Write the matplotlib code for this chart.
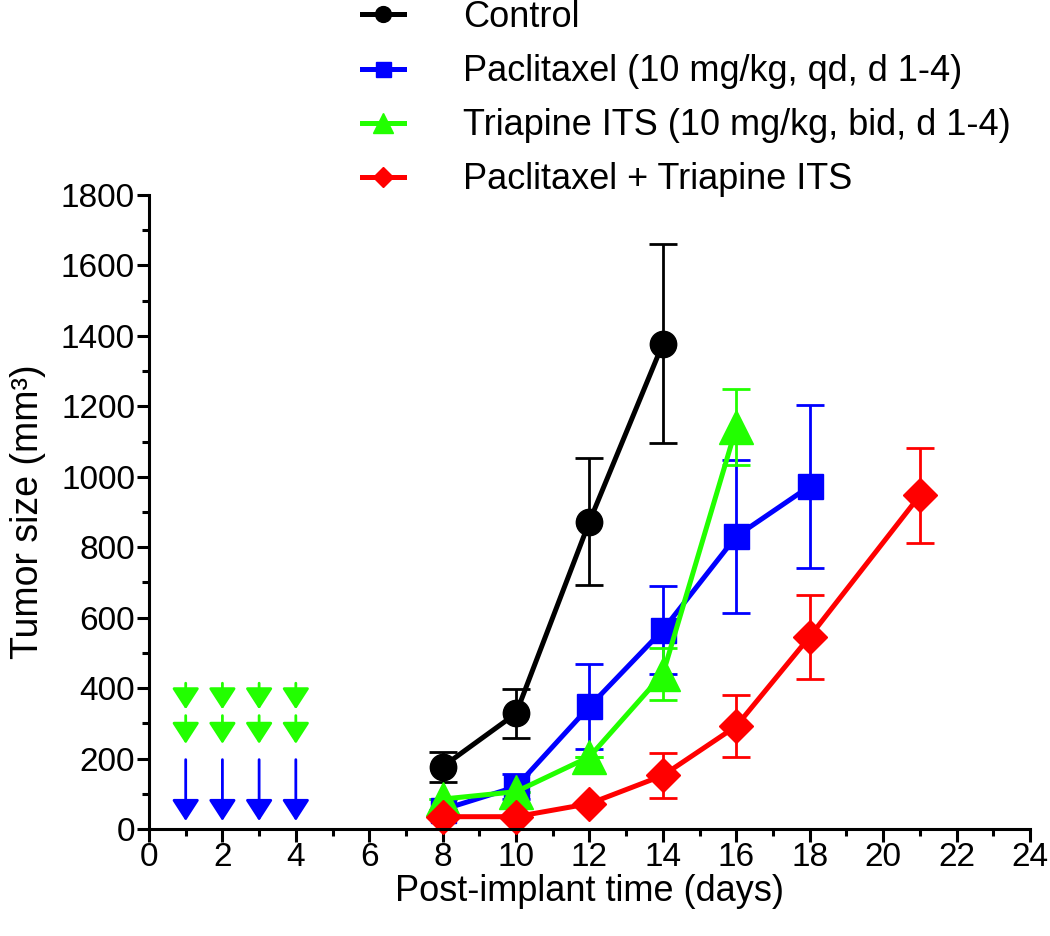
import numpy as np
import matplotlib.pyplot as plt

plt.rcParams['font.family'] = ['Liberation Sans', 'DejaVu Sans']

# tumor growth data (mean, error)
days_control = [8, 10, 12, 14]
control = [177, 328, 873, 1378]
control_err = [43, 70, 180, 283]

days_pac = [8, 10, 12, 14, 16, 18]
pac = [55, 120, 348, 565, 831, 973]
pac_err = [0, 35, 120, 126, 218, 232]

days_tri = [8, 10, 12, 14, 16]
tri = [85, 106, 205, 440, 1140]
tri_err = [0, 0, 0, 75, 108]

days_combo = [8, 10, 12, 14, 16, 18, 21]
combo = [35, 35, 72, 152, 292, 546, 947]
combo_err = [0, 0, 0, 65, 88, 119, 134]

dose_days = [1, 2, 3, 4]

labels = ['Control',
          'Paclitaxel (10 mg/kg, qd, d 1-4)',
          'Triapine ITS (10 mg/kg, bid, d 1-4)',
          'Paclitaxel + Triapine ITS']

BLUE = '#0000FF'
GREEN = '#22FF00'
RED = '#FF0000'

fig = plt.figure(figsize=(10.5, 9.36), dpi=100)
ax = fig.add_axes([0.1419, 0.1143, 0.839, 0.6774])

series = [
    (days_control, control, control_err, 'black', 'o', 19),
    (days_pac, pac, pac_err, BLUE, 's', 18),
    (days_tri, tri, tri_err, GREEN, '^', 24),
    (days_combo, combo, combo_err, RED, 'D', 17),
]

handles = []
for (x, y, e, c, m, ms), lab in zip(series, labels):
    eb = ax.errorbar(x, y, yerr=e, color=c, ecolor=c, elinewidth=2, capsize=10,
                     capthick=2, lw=3.6, marker=m, markersize=ms, clip_on=False,
                     label=lab)
    for art in eb.lines[1] + eb.lines[2]:
        art.set_clip_on(False)
    eb.lines[0].set_clip_on(False)
    handles.append(eb.lines[0])

# dosing arrows
arrow_style = '-|>,head_length=0.65,head_width=0.42'
for d in dose_days:
    for y0, y1 in [(414, 340), (322, 242)]:
        ax.annotate('', xy=(d, y1), xytext=(d, y0),
                    arrowprops=dict(arrowstyle=arrow_style, color=GREEN, lw=2,
                                    mutation_scale=20, shrinkA=0, shrinkB=0))
    ax.annotate('', xy=(d, 23), xytext=(d, 197),
                arrowprops=dict(arrowstyle=arrow_style, color=BLUE, lw=2,
                                mutation_scale=20, shrinkA=0, shrinkB=0))

ax.set_xlim(0, 24)
ax.set_ylim(0, 1800)
ax.set_xticks(np.arange(0, 25, 2))
ax.set_xticks(np.arange(1, 24, 2), minor=True)
ax.set_yticks(np.arange(0, 1801, 200))
ax.set_yticks(np.arange(100, 1800, 200), minor=True)

for s in ['top', 'right']:
    ax.spines[s].set_visible(False)
for s in ['left', 'bottom']:
    ax.spines[s].set_linewidth(2.2)

ax.tick_params(axis='both', which='major', length=9, width=2.2, labelsize=24,
               direction='out', pad=1)
ax.tick_params(axis='x', which='major', pad=0)
ax.tick_params(axis='both', which='minor', length=5, width=2.2, direction='out')

ax.set_xlabel('Post-implant time (days)', fontsize=26, labelpad=1)
ax.set_ylabel('Tumor size (mm³)', fontsize=27, labelpad=11)

fig.legend(handles, labels, loc='upper left', bbox_to_anchor=(0.345, 1.0),
           frameon=False, fontsize=26, markerscale=0.6, handlelength=1.15,
           handletextpad=1.65, labelspacing=0.53, borderpad=0.0, borderaxespad=0)

fig.savefig('out.png', dpi=100)
